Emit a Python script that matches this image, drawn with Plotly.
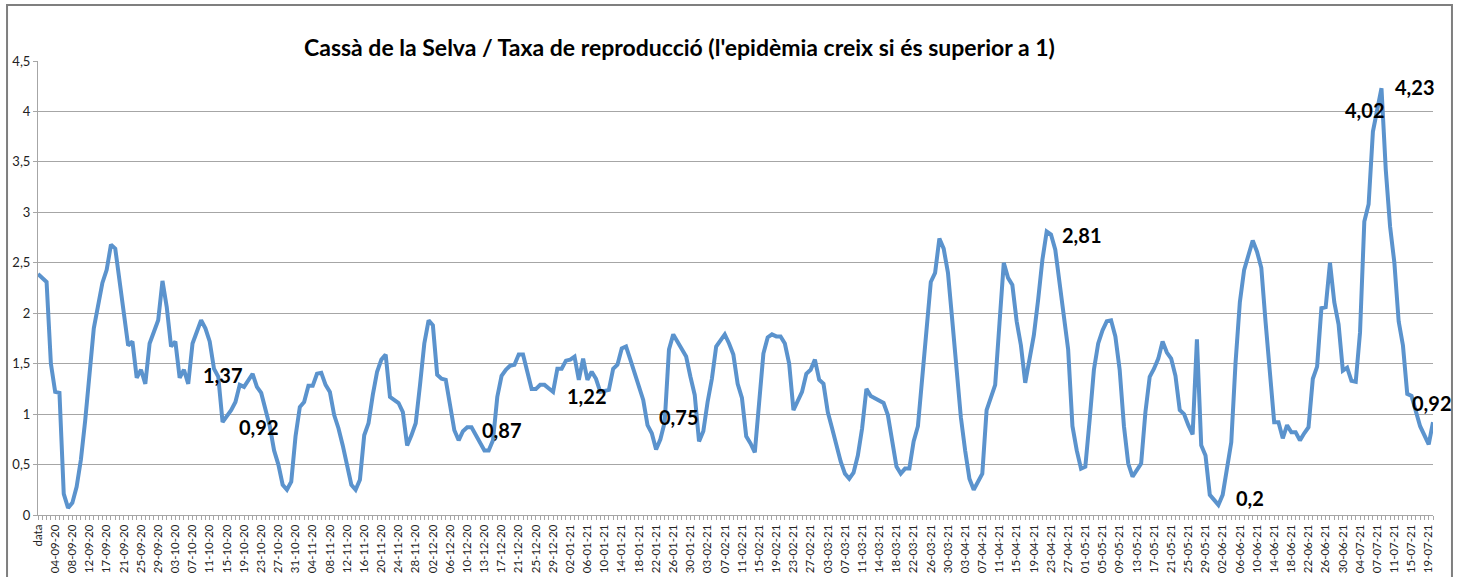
import plotly.graph_objects as go

# ---------------- data ----------------
tick_labels = [
    "data", "04-09-20", "08-09-20", "12-09-20", "17-09-20", "21-09-20", "25-09-20", "29-09-20",
    "03-10-20", "07-10-20", "11-10-20", "15-10-20", "19-10-20", "23-10-20", "27-10-20", "31-10-20",
    "04-11-20", "08-11-20", "12-11-20", "16-11-20", "20-11-20", "24-11-20", "28-11-20",
    "02-12-20", "06-12-20", "10-12-20", "13-12-20", "17-12-20", "21-12-20", "25-12-20", "29-12-20",
    "02-01-21", "06-01-21", "10-01-21", "14-01-21", "18-01-21", "22-01-21", "26-01-21", "30-01-21",
    "03-02-21", "07-02-21", "11-02-21", "15-02-21", "19-02-21", "23-02-21", "27-02-21",
    "03-03-21", "07-03-21", "11-03-21", "14-03-21", "18-03-21", "22-03-21", "26-03-21", "30-03-21",
    "03-04-21", "07-04-21", "11-04-21", "15-04-21", "19-04-21", "23-04-21", "27-04-21",
    "01-05-21", "05-05-21", "09-05-21", "13-05-21", "17-05-21", "21-05-21", "25-05-21", "29-05-21",
    "02-06-21", "06-06-21", "10-06-21", "14-06-21", "18-06-21", "22-06-21", "26-06-21", "30-06-21",
    "04-07-21", "07-07-21", "11-07-21", "15-07-21", "19-07-21",
]
label_every = 4          # one date label every 4 rows
n_rows = 326             # rows (days) in the sheet, index 0 .. 325

# row index and reproduction rate (turning points of the line)
day_index = [
    0, 2, 3, 4, 5, 6, 7, 8, 9, 10, 11, 12, 13, 15, 16, 17, 18, 20, 21, 22, 23, 24, 25, 26, 27, 28,
    29, 30, 31, 32, 33, 34, 35, 36, 38, 39, 40, 41, 42, 43, 45, 46, 47, 48, 50, 51, 52, 54, 55, 56,
    57, 58, 59, 60, 61, 62, 63, 64, 65, 66, 67, 68, 69, 70, 71, 72, 73, 74, 75, 76, 77, 78, 79, 80,
    81, 82, 83, 84, 85, 86, 87, 88, 89, 90, 91, 92, 93, 94, 95, 96, 97, 98, 99, 100, 101, 104, 105,
    106, 107, 108, 109, 110, 111, 112, 113, 114, 115, 116, 117, 118, 119, 120, 121, 122, 123, 124,
    125, 126, 127, 128, 129, 130, 131, 133, 134, 135, 136, 137, 138, 140, 141, 142, 143, 144, 145,
    146, 147, 148, 149, 150, 151, 152, 153, 154, 155, 156, 157, 158, 159, 160, 161, 162, 163, 164,
    165, 166, 167, 168, 169, 170, 171, 172, 173, 174, 175, 176, 177, 178, 179, 180, 181, 182, 183,
    184, 185, 186, 187, 188, 189, 190, 191, 192, 193, 194, 195, 196, 197, 198, 199, 200, 201, 202,
    203, 204, 205, 206, 207, 208, 209, 210, 211, 212, 213, 214, 215, 216, 217, 218, 219, 220, 221,
    222, 223, 224, 225, 226, 227, 228, 229, 230, 231, 232, 233, 234, 235, 236, 237, 238, 240, 241,
    242, 243, 244, 245, 246, 247, 248, 249, 250, 251, 252, 253, 254, 255, 256, 257, 258, 259, 260,
    261, 262, 263, 264, 265, 266, 267, 268, 269, 270, 271, 272, 273, 274, 275, 276, 277, 278, 279,
    280, 281, 282, 283, 284, 285, 286, 287, 288, 289, 290, 291, 292, 293, 294, 295, 296, 297, 298,
    299, 300, 301, 302, 303, 304, 305, 306, 307, 308, 309, 310, 311, 312, 313, 314, 315, 316, 317,
    318, 319, 320, 321, 322, 324, 325,
]
rt_value = [
    2.39, 2.31, 1.50, 1.22, 1.21, 0.21, 0.07, 0.12, 0.28, 0.55, 0.94, 1.40, 1.85, 2.30, 2.43, 2.68,
    2.64, 2.00, 1.68, 1.72, 1.36, 1.44, 1.30, 1.70, 1.83, 1.93, 2.32, 2.06, 1.67, 1.72, 1.36, 1.44,
    1.30, 1.70, 1.93, 1.85, 1.72, 1.45, 1.37, 0.92, 1.04, 1.12, 1.29, 1.27, 1.40, 1.27, 1.21, 0.88,
    0.64, 0.50, 0.30, 0.25, 0.33, 0.78, 1.07, 1.12, 1.28, 1.28, 1.40, 1.41, 1.29, 1.22, 0.99, 0.86,
    0.69, 0.50, 0.30, 0.25, 0.35, 0.79, 0.91, 1.19, 1.42, 1.54, 1.59, 1.17, 1.14, 1.11, 1.02, 0.69,
    0.79, 0.91, 1.29, 1.70, 1.93, 1.88, 1.39, 1.35, 1.34, 1.09, 0.84, 0.74, 0.83, 0.87, 0.87, 0.64,
    0.64, 0.74, 1.17, 1.38, 1.44, 1.48, 1.49, 1.59, 1.59, 1.42, 1.25, 1.25, 1.29, 1.29, 1.26, 1.22,
    1.45, 1.45, 1.53, 1.54, 1.57, 1.34, 1.55, 1.34, 1.42, 1.35, 1.22, 1.24, 1.45, 1.49, 1.65, 1.67,
    1.54, 1.29, 1.14, 0.89, 0.81, 0.65, 0.75, 0.92, 1.64, 1.79, 1.72, 1.64, 1.57, 1.37, 1.19, 0.73,
    0.83, 1.12, 1.35, 1.67, 1.73, 1.79, 1.70, 1.59, 1.30, 1.16, 0.78, 0.71, 0.62, 1.09, 1.60, 1.76,
    1.79, 1.77, 1.77, 1.70, 1.50, 1.04, 1.14, 1.22, 1.40, 1.44, 1.54, 1.34, 1.30, 1.02, 0.86, 0.69,
    0.53, 0.41, 0.36, 0.42, 0.59, 0.86, 1.25, 1.18, 1.16, 1.13, 1.11, 0.99, 0.73, 0.48, 0.41, 0.46,
    0.46, 0.73, 0.88, 1.37, 1.87, 2.31, 2.40, 2.74, 2.64, 2.40, 1.93, 1.44, 0.97, 0.64, 0.36, 0.25,
    0.33, 0.41, 1.04, 1.17, 1.29, 1.90, 2.50, 2.35, 2.28, 1.92, 1.68, 1.31, 1.54, 1.78, 2.13, 2.53,
    2.81, 2.78, 2.63, 2.30, 1.64, 0.88, 0.64, 0.46, 0.48, 0.94, 1.44, 1.70, 1.83, 1.92, 1.93, 1.77,
    1.44, 0.88, 0.51, 0.38, 0.45, 0.51, 1.02, 1.37, 1.45, 1.55, 1.72, 1.61, 1.55, 1.38, 1.04, 1.00,
    0.89, 0.80, 1.74, 0.69, 0.59, 0.20, 0.15, 0.10, 0.20, 0.46, 0.72, 1.51, 2.11, 2.43, 2.58, 2.72,
    2.61, 2.45, 1.91, 1.45, 0.92, 0.92, 0.76, 0.89, 0.82, 0.82, 0.74, 0.81, 0.87, 1.35, 1.47, 2.05,
    2.06, 2.50, 2.11, 1.89, 1.43, 1.46, 1.33, 1.32, 1.81, 2.91, 3.08, 3.80, 4.02, 4.23, 3.42, 2.86,
    2.50, 1.92, 1.68, 1.20, 1.18, 1.04, 0.88, 0.70, 0.92,
]

# data labels shown on the chart
label_text = ["1,37", "0,92", "0,87", "1,22", "0,75", "2,81", "0,2", "4,02", "4,23", "0,92"]

title_text = "Cassà de la Selva / Taxa de reproducció (l'epidèmia creix si és superior a 1)"

# ---------------- layout / style ----------------
label_pos = [(43.0, 1.39), (51.3, 0.875), (107.9, 0.84), (127.8, 1.175), (149.3, 0.97),
             (243.0, 2.78), (282.4, 0.17), (309.0, 4.01), (320.8, 4.245), (324.6, 1.11)]

FONT = "Lato, 'Open Sans', sans-serif"
LINE_BLUE = "#5b93cd"
GRID = "#a6a6a6"

fig = go.Figure()
fig.add_trace(go.Scatter(
    x=day_index, y=rt_value, mode="lines",
    line=dict(color=LINE_BLUE, width=4), showlegend=False, hoverinfo="skip",
))

tickvals = [i * label_every for i in range(len(tick_labels))]

annotations = []
for txt, (xx, yy) in zip(label_text, label_pos):
    annotations.append(dict(x=xx, y=yy, xref="x", yref="y", text="<b>" + txt + "</b>", showarrow=False,
                            xanchor="center", yanchor="middle",
                            font=dict(family=FONT, size=20, color="#000000")))
annotations.append(dict(x=0.4602, y=1.031, xref="paper", yref="paper", text="<b>" + title_text + "</b>",
                        showarrow=False, xanchor="center", yanchor="middle",
                        font=dict(family=FONT, size=23, color="#000000")))

fig.update_layout(
    width=1464, height=577,
    margin=dict(l=38, r=31, t=61, b=62, pad=0, autoexpand=False),
    paper_bgcolor="white", plot_bgcolor="white",
    separators=",.",
    font=dict(family=FONT, color="#000000"),
    annotations=annotations,
    shapes=[dict(type="rect", xref="paper", yref="paper",
                 x0=-0.0222, x1=1.0136, y0=-0.3, y1=1.1233,
                 line=dict(color="#7f7f7f", width=2), fillcolor="rgba(0,0,0,0)", layer="above")],
)

fig.update_xaxes(
    range=[0, n_rows - 1], tickmode="array", tickvals=tickvals, ticktext=tick_labels,
    tickangle=-90, tickfont=dict(family=FONT, size=11.5, color="#222222"), automargin=False,
    showgrid=False, zeroline=False, showline=True, linecolor=GRID, linewidth=1,
    ticks="outside", ticklen=4, tickcolor=GRID, tickwidth=1,
    minor=dict(tickmode="linear", tick0=0, dtick=1, ticks="outside", ticklen=4,
               tickcolor=GRID, tickwidth=1, showgrid=False),
)
fig.update_yaxes(
    range=[0, 4.5], dtick=0.5, tick0=0, automargin=False,
    tickfont=dict(family=FONT, size=13, color="#222222"),
    showgrid=True, gridcolor=GRID, gridwidth=1, zeroline=False,
    showline=True, linecolor=GRID, linewidth=1,
    ticks="outside", ticklen=4, tickcolor=GRID,
)

fig.write_html("out.html", config={"displayModeBar": False},
               post_script="document.body.style.margin='0';")
